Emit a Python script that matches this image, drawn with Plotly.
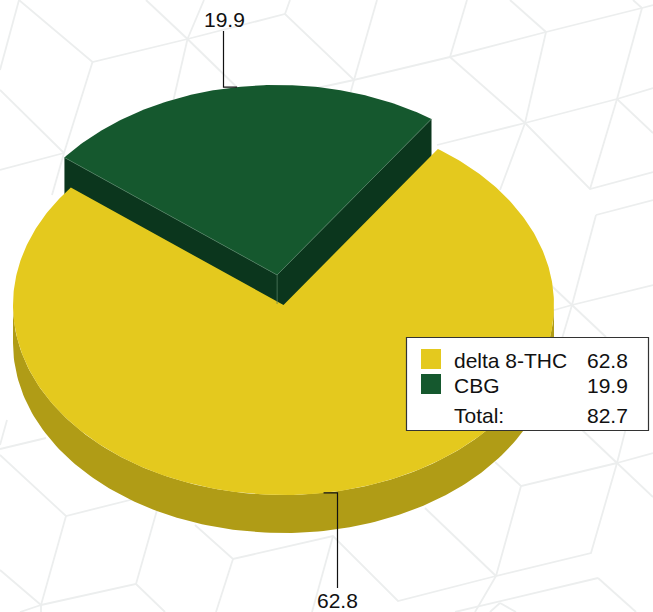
import numpy as np
import plotly.graph_objects as go

# ---- data ----
categories = ["delta 8-THC", "CBG"]
values = [62.8, 19.9]
total_label = "Total:"
total_value = 82.7

# ---- styles ----
TOP = {"delta 8-THC": "#e4c91e", "CBG": "#15582e"}
SIDE = {"delta 8-THC": "#b09c16", "CBG": "#0b361d"}
FONT = "Liberation Sans, Arial, sans-serif"
FS = 21
W, H = 653, 612

# pie geometry in page pixels
CX, CY, RX, RY = 283.5, 305.0, 270.5, 190.0
DEPTH = 38.0
PULL = 0.16
START = 34.8  # degrees clockwise from top where the first slice starts


def pt(cx, cy, deg, dy=0.0):
    r = np.radians(deg)
    return cx + RX * np.sin(r), cy - RY * np.cos(r) + dy


def arc(cx, cy, a0, a1, dy=0.0, n=160):
    return pt(cx, cy, np.linspace(a0, a1, n), dy)


spans = [v / sum(values) * 360 for v in values]
a0_y, a1_y = START, START + spans[0]
a0_g, a1_g = a1_y, a1_y + spans[1]
mid_y = (a0_y + a1_y) / 2
mid_g = (a0_g + a1_g) / 2
gx = CX + RX * PULL * np.sin(np.radians(mid_g))
gy = CY - RY * PULL * np.cos(np.radians(mid_g))


def poly(x, y, color, name):
    return go.Scatter(
        x=list(x), y=list(y), mode="lines", fill="toself", fillcolor=color,
        line=dict(color=color, width=0),
        name=name, hoverinfo="name", showlegend=False,
    )


fig = go.Figure()

# the green slice's two radial walls
lx, ly = pt(gx, gy, a0_g)
rx, ry = pt(gx, gy, a1_g)
fig.add_trace(poly([lx, gx, gx, lx], [ly, gy, gy + DEPTH, ly + DEPTH], SIDE["CBG"], "CBG"))
fig.add_trace(poly([rx, gx, gx, rx], [ry, gy, gy + DEPTH, ry + DEPTH], SIDE["CBG"], "CBG"))

# yellow rim
ax, ay = arc(CX, CY, 90, 270)
bx, by = arc(CX, CY, 270, 90, DEPTH)
fig.add_trace(poly(np.r_[ax, bx], np.r_[ay, by], SIDE["delta 8-THC"], "delta 8-THC"))

# yellow top
ax, ay = arc(CX, CY, a0_y, a1_y, n=400)
fig.add_trace(poly(np.r_[CX, ax, CX], np.r_[CY, ay, CY], TOP["delta 8-THC"], "delta 8-THC"))

# green top
ax, ay = arc(gx, gy, a0_g, a1_g)
fig.add_trace(poly(np.r_[gx, ax, gx], np.r_[gy, ay, gy], TOP["CBG"], "CBG"))
# pale seams on the green block
fig.add_trace(go.Scatter(
    x=[lx, gx, rx, None, gx, gx],
    y=[ly, gy, ry, None, gy, gy + 29],
    mode="lines", line=dict(color="#4f7d60", width=0.7), hoverinfo="skip", showlegend=False,
))

# leader lines, anchored on each slice's mid angle
yx, yy = pt(CX, CY, mid_y)
fig.add_trace(go.Scatter(x=[yx, 337.5, 337.5], y=[yy, yy, 588], mode="lines",
                         line=dict(color="#111", width=1.2), hoverinfo="skip", showlegend=False))
tx, ty = pt(gx, gy, mid_g)
fig.add_trace(go.Scatter(x=[tx, 223.5, 223.5], y=[ty, ty, 31], mode="lines",
                         line=dict(color="#111", width=1.2), hoverinfo="skip", showlegend=False))

shapes = []
# faint cube pattern of the backdrop
pattern = [
    [(19, 0), (92.5, 62), (187.5, 39), (285, 14), (354, 80), (450, 57), (546, 32), (642, 8), (653, 5)],
    [(19, 0), (0, 70)],
    [(187.5, 39), (146, 0)], [(187.5, 39), (204, 0)], [(187.5, 39), (170, 115)], [(187.5, 39), (250, 100)],
    [(285, 14), (290, 0)],
    [(354, 80), (377, 0)], [(354, 80), (340, 130)], [(354, 80), (317, 88)],
    [(450, 57), (467, 0)], [(450, 57), (525, 123)],
    [(546, 32), (510, 0)], [(546, 32), (525, 123)],
    [(642, 8), (633, 0)], [(642, 8), (617, 99)],
    [(525, 123), (437, 145)], [(525, 123), (617, 99), (653, 88)],
    [(525, 123), (590, 189), (653, 172)], [(525, 123), (500, 190)],
    [(617, 99), (653, 133)], [(617, 99), (590, 189)],
    [(596, 215), (653, 200)], [(596, 215), (572, 305), (561, 342)],
    [(572, 305), (653, 285)], [(572, 305), (540, 314)], [(540, 275), (606, 337)],
    [(92.5, 62), (64, 153), (52, 195)], [(0, 90), (64, 153)], [(64, 153), (0, 170)],
    [(580, 428), (617, 463)], [(617, 463), (653, 453)], [(617, 463), (653, 497)], [(617, 463), (628, 420)],
    [(617, 463), (521, 486), (496, 576), (591, 553), (617, 463)], [(521, 486), (495, 462)],
    [(496, 576), (398, 601), (333, 536), (233, 559), (195, 525)],
    [(496, 576), (425, 508)], [(496, 576), (475, 612)],
    [(233, 559), (216, 612)], [(333, 536), (312, 612)],
    [(0, 455), (66, 516), (154, 494)], [(66, 516), (41, 605), (41, 612)],
    [(41, 605), (136, 584), (157, 510)], [(136, 584), (165, 612)], [(41, 605), (20, 612)], [(41, 605), (0, 570)],
    [(0, 449), (46, 438)], [(7, 420), (0, 445)],
    [(598, 578), (455, 612)], [(598, 578), (636, 612)],
    [(500, 603), (516, 612)], [(500, 603), (490, 612)],
]
for seg in pattern:
    d = "M" + " L".join(f"{x},{y}" for x, y in seg)
    shapes.append(dict(type="path", path=d, layer="below", line=dict(color="#eceeee", width=1.8)))

# legend box and swatches
shapes.append(dict(type="rect", x0=406.5, x1=648.5, y0=337.5, y1=430.5,
                   fillcolor="#ffffff", line=dict(color="#333333", width=1.2), layer="above"))
row_y = [360, 385, 415]
for cat, y in zip(categories, row_y):
    shapes.append(dict(type="rect", x0=421, x1=441, y0=y - 11, y1=y + 9,
                       fillcolor=TOP[cat], line=dict(width=0), layer="above"))

ann = []


def text(x, y, s, anchor="left"):
    ann.append(dict(x=x, y=y, text=s, xref="x", yref="y", showarrow=False, xanchor=anchor,
                    yanchor="middle", align=anchor, font=dict(family=FONT, size=FS, color="#111111"),
                    borderpad=0, borderwidth=0))


for label, v, y in zip(categories + [total_label], values + [total_value], row_y):
    text(454, y, label)
    text(628, y, f"{v:.1f}", "right")
text(224, 19, f"{values[1]:.1f}", "center")
text(337, 600, f"{values[0]:.1f}", "center")

fig.update_layout(
    width=W, height=H, margin=dict(l=0, r=0, t=0, b=0),
    paper_bgcolor="#ffffff", plot_bgcolor="#ffffff",
    xaxis=dict(range=[0, W], visible=False, fixedrange=True),
    yaxis=dict(range=[H, 0], visible=False, fixedrange=True),
    shapes=shapes, annotations=ann, showlegend=False,
)
fig.write_html("out.html", config=dict(displayModeBar=False),
               post_script="document.body.style.margin='0';document.documentElement.style.overflow='hidden';")
